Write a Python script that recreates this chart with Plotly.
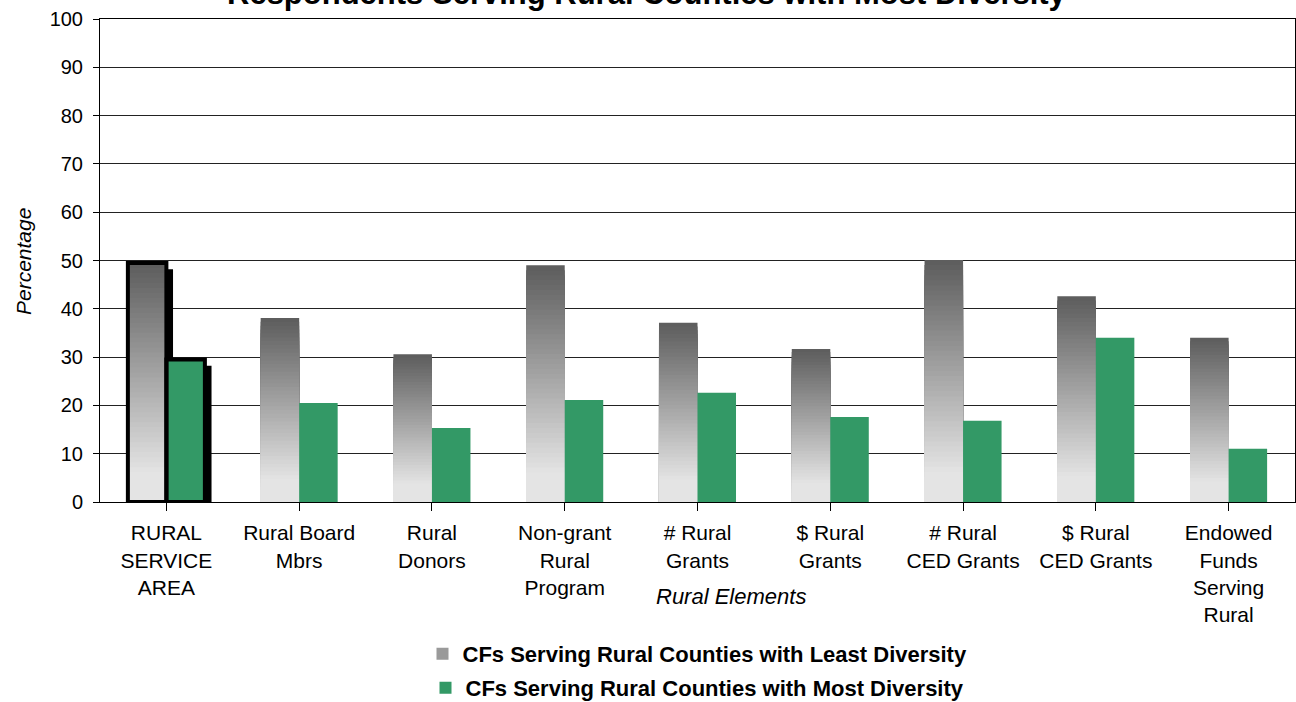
import plotly.graph_objects as go

categories = ["RURAL<br>SERVICE<br>AREA", "Rural Board<br>Mbrs", "Rural<br>Donors",
              "Non-grant<br>Rural<br>Program", "# Rural<br>Grants", "$ Rural<br>Grants",
              "# Rural<br>CED Grants", "$ Rural<br>CED Grants", "Endowed<br>Funds<br>Serving<br>Rural"]
least_diversity = [49.5, 38.1, 30.6, 49.0, 37.1, 31.7, 50.1, 42.6, 34.0]
most_diversity = [29.5, 20.5, 15.3, 21.1, 22.6, 17.6, 16.8, 34.0, 11.0]
y_ticks = [0, 10, 20, 30, 40, 50, 60, 70, 80, 90, 100]

series_names = ["CFs Serving Rural Counties with Least Diversity",
                "CFs Serving Rural Counties with Most Diversity"]
title_text = "Respondents Serving Rural Counties with Most Diversity"

FONT = "Arial, Liberation Sans, sans-serif"
GREEN = "#339966"
BW = 0.29
x_idx = list(range(len(categories)))

fig = go.Figure()

# shadows for the highlighted first group
hl_least = [least_diversity[0]] + [None] * (len(categories) - 1)
hl_most = [most_diversity[0]] + [None] * (len(categories) - 1)
for vals, off in [(hl_least, -BW), (hl_most, 0)]:
    fig.add_trace(go.Bar(x=x_idx, y=vals, base=-1.3, offset=off + 0.05, width=BW,
                         marker=dict(color="black", line=dict(width=0)),
                         showlegend=False, hoverinfo="skip"))

# gradient grey bars: drawn tallest (darkest) first, lighter shorter bars on top
N = 48
def grey(f):
    lo, hi = 0.12, 1.0
    t = 0.0 if f < lo else (f - lo) / (hi - lo)
    c0, c1 = 0xe4, 0x5c
    c = int(round(c0 + (c1 - c0) * t))
    return f"rgb({c},{c},{c})"

for k in range(N - 1, -1, -1):
    frac_top = (k + 1) / N
    fig.add_trace(go.Bar(x=x_idx, y=[v * frac_top for v in least_diversity],
                         offset=-BW, width=BW,
                         marker=dict(color=grey((k + 0.5) / N), line=dict(width=0)),
                         showlegend=False, hoverinfo="skip"))

fig.add_trace(go.Bar(x=x_idx, y=most_diversity, offset=0, width=BW,
                     marker=dict(color=GREEN, line=dict(width=0)),
                     showlegend=False))

# outlines for highlighted first group
for vals, off in [(hl_least, -BW), (hl_most, 0)]:
    fig.add_trace(go.Bar(x=x_idx, y=vals, offset=off, width=BW,
                         marker=dict(color="rgba(0,0,0,0)", line=dict(width=4, color="black")),
                         showlegend=False, hoverinfo="skip"))

# legend entries
fig.add_trace(go.Bar(x=[0], y=[None], name=f"<b>{series_names[0]}</b>", legend="legend",
                     marker=dict(color="#9a9a9a", line=dict(width=0))))
fig.add_trace(go.Bar(x=[0], y=[None], name=f"<b>{series_names[1]}</b>", legend="legend2",
                     marker=dict(color=GREEN, line=dict(width=0))))

legend_common = dict(font=dict(family=FONT, size=22, color="black"),
                     bgcolor="rgba(0,0,0,0)", xanchor="center",
                     itemwidth=30, borderwidth=0)

fig.update_layout(
    width=1296, height=702,
    barmode="overlay",
    plot_bgcolor="white", paper_bgcolor="white",
    margin=dict(l=100, r=1, t=19, b=200, autoexpand=False),
    font=dict(family=FONT, size=19, color="black"),
    legend=dict(x=0.5, y=(502 - 654) / 483, yanchor="middle", **legend_common),
    legend2=dict(x=0.5, y=(502 - 709) / 483, yanchor="bottom", **legend_common),
    xaxis=dict(
        tickmode="array", tickvals=x_idx, ticktext=categories,
        range=[-0.5, len(categories) - 0.5],
        showline=True, linecolor="black", linewidth=1, mirror=True,
        ticks="outside", ticklen=8, tickcolor="black", tickson="boundaries",
        showgrid=False, zeroline=False, automargin=False,
        tickfont=dict(family=FONT, size=21, color="black"),
        ticklabelstandoff=4,
    ),
    yaxis=dict(
        range=[0, 100], tickvals=y_ticks,
        showline=True, linecolor="black", linewidth=1, mirror=True,
        ticks="outside", ticklen=6, tickcolor="black",
        showgrid=True, gridcolor="#222222", gridwidth=1, zeroline=False, automargin=False,
        tickfont=dict(family=FONT, size=20, color="black"),
        ticklabelstandoff=6,
    ),
    annotations=[
        dict(text=f"<b>{title_text}</b>", xref="paper", yref="paper",
             x=0.458, y=1.0124, xanchor="center", yanchor="bottom", showarrow=False,
             font=dict(family=FONT, size=31, color="black")),
        dict(text="<i>Percentage</i>", xref="paper", yref="paper",
             x=(23 - 100) / 1195, y=(502 - 262) / 483, xanchor="center", yanchor="middle",
             textangle=-90, showarrow=False,
             font=dict(family=FONT, size=21, color="black")),
        dict(text="<i>Rural Elements</i>", xref="paper", yref="paper",
             x=(731 - 100) / 1195, y=(502 - 596) / 483, xanchor="center", yanchor="middle",
             showarrow=False, font=dict(family=FONT, size=22, color="black")),
    ],
)

fig.write_html("out.html")
